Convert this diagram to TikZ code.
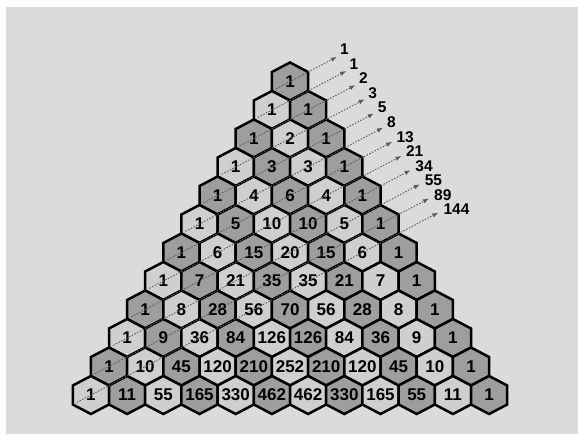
\documentclass[tikz,border=0pt]{standalone}
\usepackage{fontspec}
\setmainfont{Liberation Sans}
\usetikzlibrary{arrows.meta,calc}

\definecolor{bggray}{gray}{0.86}
\definecolor{shade0}{gray}{0.62}
\definecolor{shade1}{gray}{0.81}

\begin{document}
\begin{tikzpicture}[
  x=1pt, y=-1pt,
  hexcell/.style={draw=black, line width=2.5pt, line join=miter},
  num/.style={font=\fontsize{17}{17}\selectfont\bfseries, inner sep=0pt},
  fib/.style={font=\fontsize{15.5}{15.5}\selectfont\bfseries, inner sep=0pt, anchor=west},
  diag/.style={dash pattern=on 1.5pt off 1.5pt, line width=0.9pt, draw=black!65, -{Latex[length=6pt,width=4.5pt]}}
]
\fill[white] (0,0) rectangle (578,434);
\fill[bggray] (6,7) rectangle (578,434);
\useasboundingbox (0,0) rectangle (578,434);

% the hexagons, row by row
\foreach \row [count=\n from 0] in {{1},{1,1},{1,2,1},{1,3,3,1},{1,4,6,4,1},{1,5,10,10,5,1},{1,6,15,20,15,6,1},{1,7,21,35,35,21,7,1},{1,8,28,56,70,56,28,8,1},{1,9,36,84,126,126,84,36,9,1},{1,10,45,120,210,252,210,120,45,10,1},{1,11,55,165,330,462,462,330,165,55,11,1}}
  \foreach \v [count=\k from 0] in \row {
    \pgfmathtruncatemacro\shd{mod(\n+\k,2)}
    \path[hexcell, fill=shade\shd] ({290+36.2*(\k-\n/2)},{81.5+28.5*\n})
      +(0,-19) -- +(18.1,-9.5) -- +(18.1,9.5) -- +(0,19) -- +(-18.1,9.5) -- +(-18.1,-9.5) -- cycle;
    \node[num] (c-\n-\k) at ({290+36.2*(\k-\n/2)},{81.5+28.5*\n}) {\v};
  }

% shallow diagonals and their sums
\foreach \f [count=\i from 0] in {1,1,2,3,5,8,13,21,34,55,89,144} {
  \pgfmathsetmacro\d{47+27.3*\i}
  \coordinate (s\i) at ($(c-\i-0)+(-14,7.35)$);
  \coordinate (t\i) at ($(c-\i-0)+(\d,-0.5249*\d)$);
  \draw[diag] (s\i) -- (t\i);
  \node[fib] (f\i) at ($(t\i)+(3+0.2*\i,-7.5+0.4*\i)$) {\f};
}
\end{tikzpicture}
\end{document}
